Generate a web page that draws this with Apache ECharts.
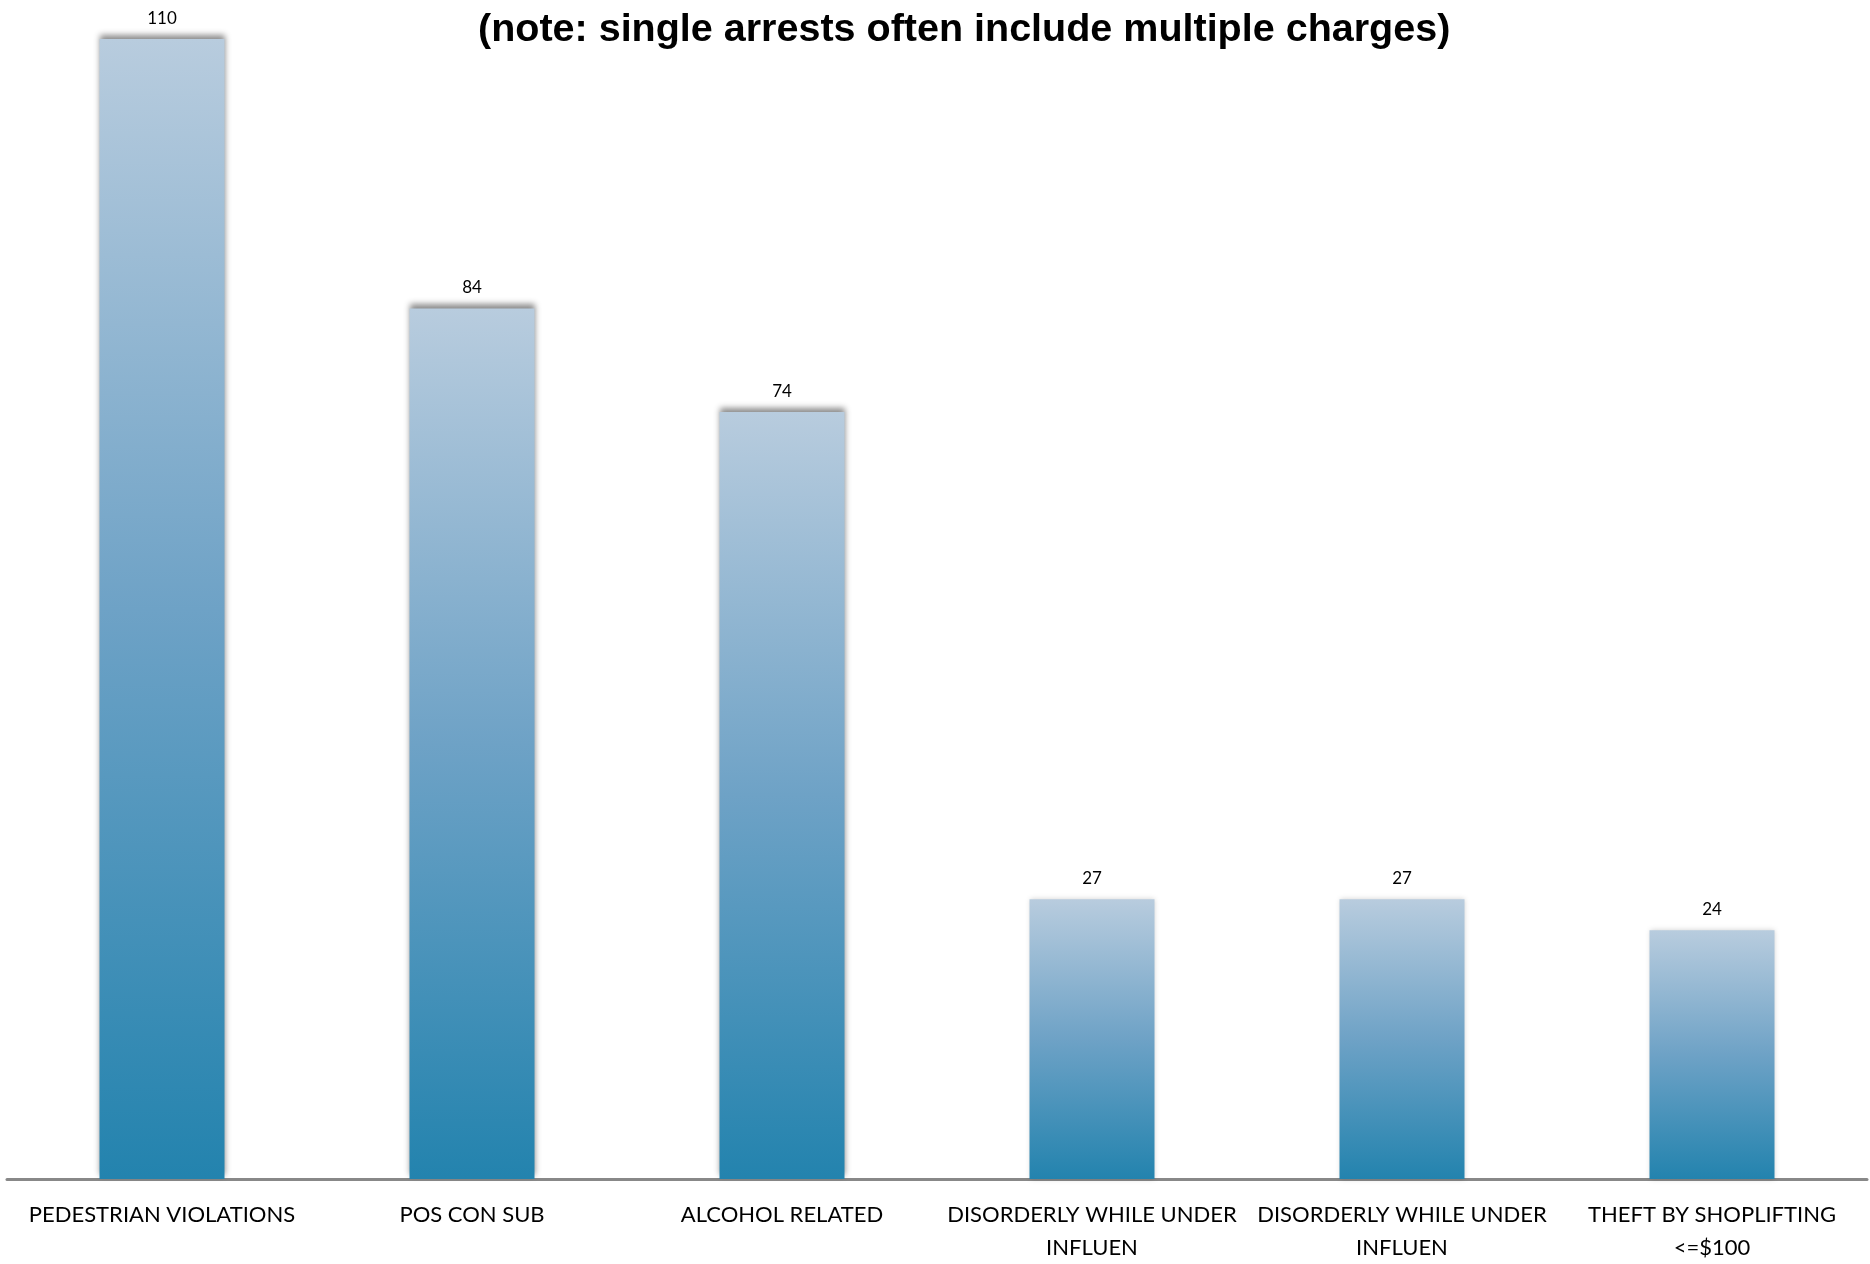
<!DOCTYPE html>
<html>
<head>
<meta charset="utf-8">
<script src="https://cdn.jsdelivr.net/npm/echarts@6/dist/echarts.min.js"></script>
<style>
html,body{margin:0;padding:0;background:#fff;}
#chart{width:1870px;height:1264px;}
</style>
</head>
<body>
<div id="chart"></div>
<script>
const titleText = '(note: single arrests often include multiple charges)';
const categories = [
  'PEDESTRIAN VIOLATIONS',
  'POS CON SUB',
  'ALCOHOL RELATED',
  'DISORDERLY WHILE UNDER\nINFLUEN',
  'DISORDERLY WHILE UNDER\nINFLUEN',
  'THEFT BY SHOPLIFTING\n<=$100'
];
const values = [110, 84, 74, 27, 27, 24];

const chart = echarts.init(document.getElementById('chart'), null, {renderer: 'canvas'});
const barGradient = new echarts.graphic.LinearGradient(0, 0, 0, 1, [
  {offset: 0, color: '#b8ccde'},
  {offset: 0.5, color: '#6ea2c6'},
  {offset: 1, color: '#2383ae'}
]);
const dataItems = values.map(v => ({
  value: v,
  itemStyle: v > 50
    ? {shadowColor: 'rgba(0,0,0,0.45)', shadowBlur: 6, shadowOffsetY: -4}
    : {shadowColor: 'rgba(0,0,0,0.18)', shadowBlur: 5, shadowOffsetY: 0}
}));
chart.setOption({
  animation: false,
  backgroundColor: '#ffffff',
  title: {
    text: titleText,
    left: 473,
    top: 5,
    textStyle: {fontFamily: 'Liberation Sans', fontWeight: 'bold', fontSize: 39.5, color: '#000'}
  },
  grid: {left: 7, right: 3, top: 39, bottom: 76, containLabel: false},
  xAxis: {
    type: 'category',
    data: categories,
    axisLine: {show: true, lineStyle: {color: '#888888', width: 3}},
    axisTick: {show: false},
    axisLabel: {
      interval: 0,
      margin: 19,
      fontFamily: 'Lato',
      fontSize: 22,
      lineHeight: 33,
      color: '#000'
    }
  },
  yAxis: {
    type: 'value',
    min: 0,
    max: 110,
    show: false,
    splitLine: {show: false}
  },
  series: [{
    type: 'bar',
    data: dataItems,
    barWidth: 125,
    itemStyle: {color: barGradient},
    label: {
      show: true,
      position: 'top',
      distance: 12,
      fontFamily: 'Lato',
      fontSize: 17,
      color: '#000'
    }
  }]
});
</script>
</body>
</html>
